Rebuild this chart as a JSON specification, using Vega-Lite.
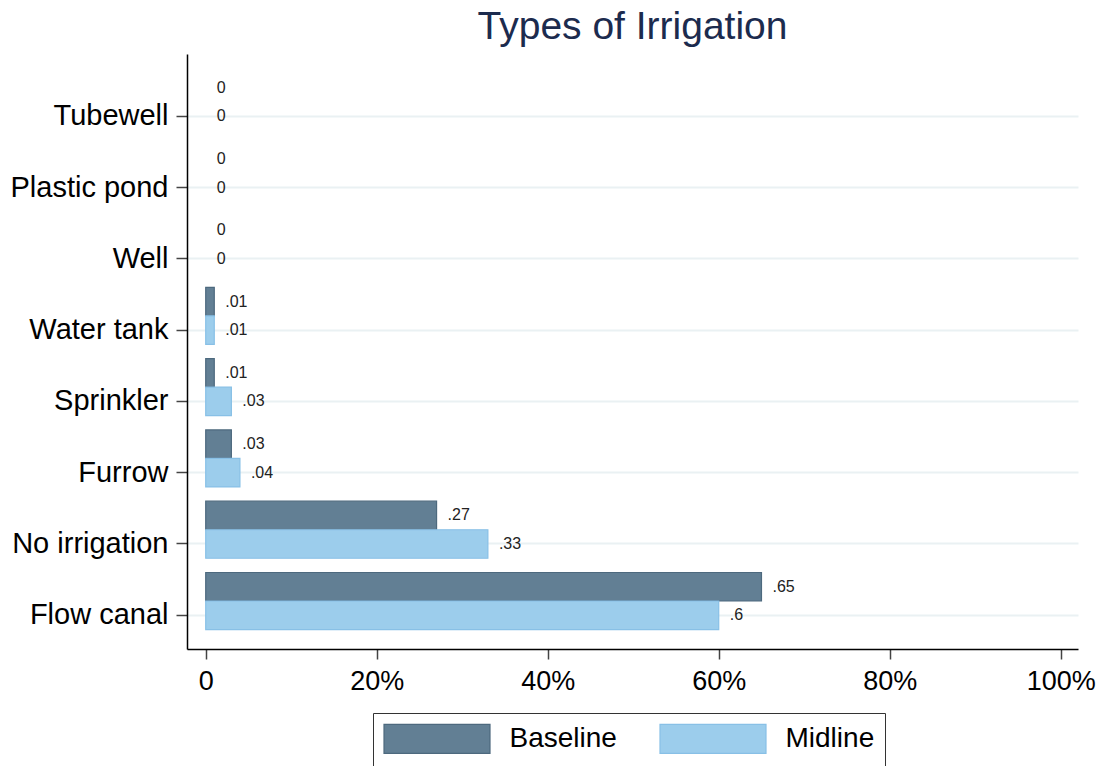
{
  "$schema": "https://vega.github.io/schema/vega-lite/v6.json",
  "autosize": {"type": "none"},
  "padding": {"left": 187, "top": 54, "right": 26, "bottom": 117},
  "width": 891,
  "height": 595,
  "background": "white",
  "config": {
    "font": "Liberation Sans",
    "view": {"stroke": null}
  },
  "title": {
    "text": "Types of Irrigation",
    "fontSize": 39,
    "fontWeight": "normal",
    "color": "#1c2b4e",
    "anchor": "middle",
    "baseline": "alphabetic",
    "offset": 17,
    "dy": 41,
    "font": "Liberation Sans"
  },
  "data": {
    "values": [
      {"type": "Tubewell", "series": "Baseline", "value": 0},
      {"type": "Tubewell", "series": "Midline", "value": 0},
      {"type": "Plastic pond", "series": "Baseline", "value": 0},
      {"type": "Plastic pond", "series": "Midline", "value": 0},
      {"type": "Well", "series": "Baseline", "value": 0},
      {"type": "Well", "series": "Midline", "value": 0},
      {"type": "Water tank", "series": "Baseline", "value": 0.01},
      {"type": "Water tank", "series": "Midline", "value": 0.01},
      {"type": "Sprinkler", "series": "Baseline", "value": 0.01},
      {"type": "Sprinkler", "series": "Midline", "value": 0.03},
      {"type": "Furrow", "series": "Baseline", "value": 0.03},
      {"type": "Furrow", "series": "Midline", "value": 0.04},
      {"type": "No irrigation", "series": "Baseline", "value": 0.27},
      {"type": "No irrigation", "series": "Midline", "value": 0.33},
      {"type": "Flow canal", "series": "Baseline", "value": 0.65},
      {"type": "Flow canal", "series": "Midline", "value": 0.6}
    ]
  },
  "encoding": {
    "y": {
      "field": "type",
      "type": "nominal",
      "sort": ["Tubewell", "Plastic pond", "Well", "Water tank", "Sprinkler", "Furrow", "No irrigation", "Flow canal"],
      "scale": {"paddingInner": 0, "paddingOuter": 0.173},
      "axis": {
        "title": null,
        "bandPosition": 0.7,
        "labelOffset": 14.3,
        "labelFontSize": 29,
        "labelColor": "#000000",
        "labelPadding": 8,
        "tickSize": 11,
        "tickColor": "#444444",
        "tickWidth": 1.5,
        "domainColor": "#000000",
        "domainWidth": 1.5,
        "grid": true,
        "gridColor": "#eaf1f3",
        "gridWidth": 2
      }
    },
    "yOffset": {
      "field": "series",
      "type": "nominal",
      "sort": ["Baseline", "Midline"],
      "scale": {"paddingInner": 0, "paddingOuter": 0.25}
    },
    "x": {
      "field": "value",
      "type": "quantitative",
      "scale": {"domain": [-0.0219, 1.0202], "nice": false, "zero": false},
      "axis": {
        "title": null,
        "values": [0, 0.2, 0.4, 0.6, 0.8, 1],
        "labelExpr": "datum.value == 0 ? '0' : format(datum.value, '.0%')",
        "labelFontSize": 27,
        "labelColor": "#000000",
        "labelPadding": 9,
        "labelFlush": false,
        "tickSize": 10,
        "tickColor": "#444444",
        "tickWidth": 1.5,
        "domainColor": "#000000",
        "domainWidth": 1.5,
        "grid": false
      }
    }
  },
  "layer": [
    {
      "transform": [{"filter": "datum.value > 0"}],
      "mark": {"type": "bar", "strokeWidth": 1.2},
      "encoding": {
        "x2": {"datum": 0},
        "fill": {
          "field": "series",
          "type": "nominal",
          "scale": {"domain": ["Baseline", "Midline"], "range": ["#627f94", "#9ccdec"]},
          "legend": {
            "title": null,
            "orient": "none",
            "legendX": 186,
            "legendY": 659,
            "direction": "horizontal",
            "symbolType": "M-3.655,-1H3.655V1H-3.655Z",
            "symbolSize": 841,
            "symbolOffset": 38.5,
            "symbolStrokeWidth": 1.2,
            "symbolOpacity": 1,
            "labelFontSize": 28,
            "labelColor": "#000000",
            "labelOffset": 57,
            "columnPadding": 40,
            "padding": 10,
            "strokeColor": "#333333"
          }
        },
        "stroke": {
          "field": "series",
          "type": "nominal",
          "scale": {"domain": ["Baseline", "Midline"], "range": ["#4d697e", "#88c0e6"]},
          "legend": {
            "title": null,
            "orient": "none",
            "legendX": 186,
            "legendY": 659,
            "direction": "horizontal",
            "symbolType": "M-3.655,-1H3.655V1H-3.655Z",
            "symbolSize": 841,
            "symbolOffset": 38.5,
            "symbolStrokeWidth": 1.2,
            "symbolOpacity": 1,
            "labelFontSize": 28,
            "labelColor": "#000000",
            "labelOffset": 57,
            "columnPadding": 40,
            "padding": 10,
            "strokeColor": "#333333"
          }
        }
      }
    },
    {
      "transform": [{"calculate": "datum.value == 0 ? '0' : slice(format(datum.value, '.2~f'), 1)", "as": "label"}],
      "mark": {"type": "text", "align": "left", "baseline": "middle", "dx": 11, "fontSize": 16, "color": "#222222"},
      "encoding": {
        "text": {"field": "label"}
      }
    }
  ]
}
